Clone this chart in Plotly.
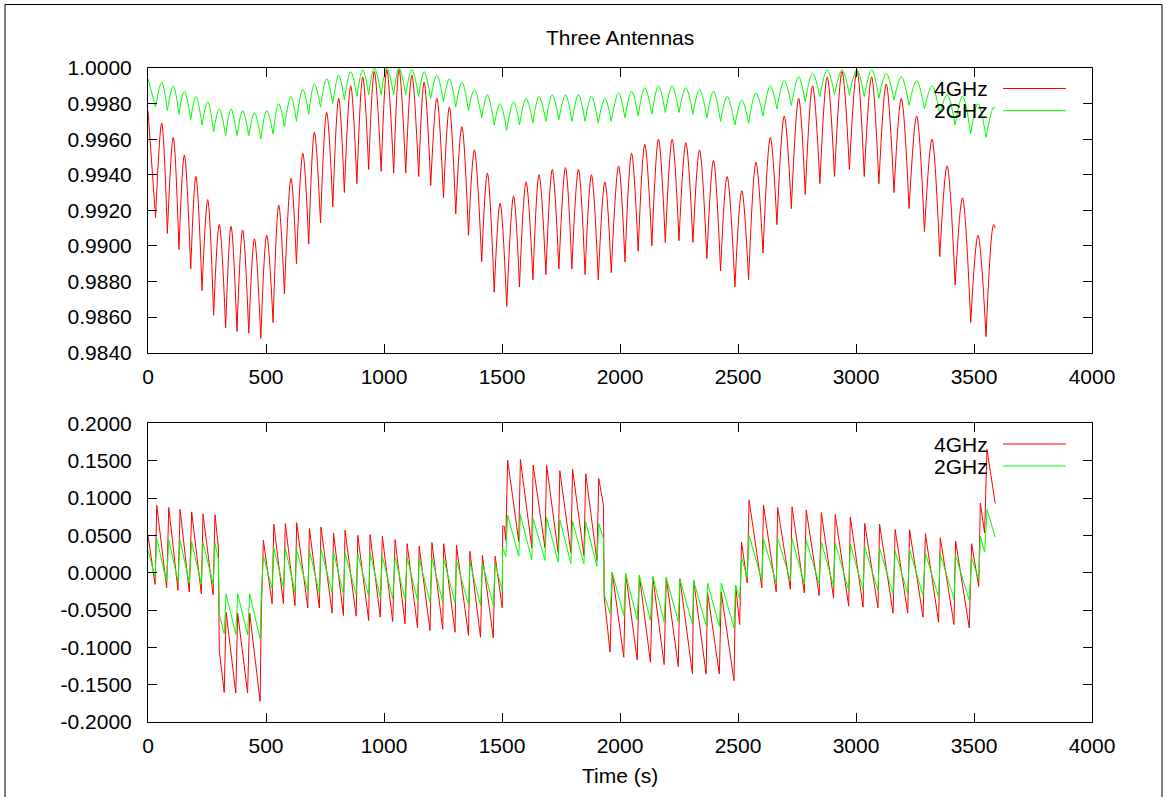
import plotly.graph_objects as go

# ---- upper panel: normalised amplitude ----
t_top = [0, 32, 58, 82, 107, 131, 154, 181, 203, 229,
         253, 278, 302, 329, 352, 377, 401, 427, 451, 478,
         503, 530, 554, 578, 606, 629, 656, 681, 705, 731,
         757, 783, 808, 832, 859, 885, 910, 935, 959, 988,
         1012, 1041, 1064, 1092, 1118, 1147, 1170, 1198, 1224, 1252,
         1277, 1304, 1330, 1358, 1383, 1414, 1438, 1467, 1492, 1520,
         1549, 1574, 1602, 1631, 1657, 1686, 1713, 1741, 1769, 1796,
         1824, 1852, 1879, 1908, 1936, 1963, 1994, 2021, 2049, 2077,
         2105, 2135, 2163, 2192, 2221, 2250, 2279, 2309, 2337, 2368,
         2396, 2426, 2454, 2487, 2516, 2545, 2576, 2606, 2637, 2665,
         2696, 2726, 2757, 2785, 2816, 2847, 2878, 2909, 2941, 2972,
         3004, 3035, 3066, 3097, 3128, 3161, 3192, 3225, 3257, 3290,
         3322, 3355, 3386, 3420, 3451, 3486, 3517, 3551, 3583, 3590]

top_4ghz = [0.9976, 0.9916, 0.9969, 0.9907, 0.9961, 0.9898, 0.9951, 0.9887, 0.9939, 0.9875,
            0.9926, 0.9861, 0.9912, 0.9854, 0.9911, 0.9852, 0.9909, 0.9851, 0.9904, 0.9848,
            0.9906, 0.9857, 0.9923, 0.9873, 0.9938, 0.9890, 0.9952, 0.9901, 0.9964, 0.9913,
            0.9975, 0.9922, 0.9983, 0.9930, 0.9990, 0.9935, 0.9995, 0.9943, 0.9998, 0.9942,
            0.9999, 0.9941, 0.9999, 0.9941, 0.9996, 0.9939, 0.9992, 0.9934, 0.9983, 0.9927,
            0.9978, 0.9918, 0.9967, 0.9906, 0.9954, 0.9891, 0.9941, 0.9874, 0.9924, 0.9866,
            0.9928, 0.9877, 0.9936, 0.9881, 0.9940, 0.9884, 0.9943, 0.9887, 0.9944, 0.9887,
            0.9943, 0.9884, 0.9940, 0.9881, 0.9936, 0.9885, 0.9945, 0.9891, 0.9952, 0.9897,
            0.9957, 0.9900, 0.9960, 0.9902, 0.9960, 0.9903, 0.9958, 0.9902, 0.9954, 0.9893,
            0.9948, 0.9886, 0.9939, 0.9877, 0.9931, 0.9881, 0.9947, 0.9896, 0.9961, 0.9912,
            0.9973, 0.9921, 0.9983, 0.9929, 0.9990, 0.9935, 0.9995, 0.9939, 0.9998, 0.9943,
            0.9999, 0.9939, 0.9995, 0.9935, 0.9991, 0.9930, 0.9983, 0.9921, 0.9973, 0.9908,
            0.9960, 0.9894, 0.9945, 0.9878, 0.9927, 0.9857, 0.9906, 0.9849, 0.9912, 0.9910]

top_2ghz = [0.9994, 0.9978, 0.9992, 0.9976, 0.9990, 0.9974, 0.9987, 0.9971, 0.9984, 0.9968,
            0.9981, 0.9964, 0.9977, 0.9962, 0.9977, 0.9962, 0.9976, 0.9962, 0.9975, 0.9960,
            0.9976, 0.9963, 0.9980, 0.9967, 0.9984, 0.9970, 0.9988, 0.9974, 0.9991, 0.9978,
            0.9994, 0.9980, 0.9996, 0.9982, 0.9998, 0.9984, 0.9999, 0.9985, 1.0000, 0.9985,
            1.0000, 0.9985, 1.0000, 0.9985, 0.9999, 0.9984, 0.9998, 0.9983, 0.9996, 0.9981,
            0.9994, 0.9978, 0.9992, 0.9976, 0.9988, 0.9972, 0.9985, 0.9968, 0.9980, 0.9965,
            0.9981, 0.9968, 0.9983, 0.9969, 0.9984, 0.9970, 0.9985, 0.9971, 0.9985, 0.9970,
            0.9985, 0.9970, 0.9984, 0.9969, 0.9983, 0.9970, 0.9986, 0.9972, 0.9987, 0.9973,
            0.9989, 0.9974, 0.9990, 0.9975, 0.9990, 0.9975, 0.9989, 0.9974, 0.9988, 0.9972,
            0.9987, 0.9970, 0.9984, 0.9968, 0.9982, 0.9969, 0.9986, 0.9973, 0.9990, 0.9977,
            0.9993, 0.9979, 0.9995, 0.9981, 0.9997, 0.9984, 0.9999, 0.9985, 0.9999, 0.9985,
            0.9999, 0.9984, 0.9999, 0.9983, 0.9997, 0.9982, 0.9995, 0.9979, 0.9993, 0.9977,
            0.9990, 0.9974, 0.9985, 0.9968, 0.9984, 0.9963, 0.9980, 0.9961, 0.9978, 0.9977]

# ---- lower panel: phase ----
t_bot = [0, 30, 37, 79, 88, 127, 136, 175, 185, 226,
         233, 276, 284, 298, 302, 323, 331, 372, 380, 422,
         431, 475, 480, 489, 526, 533, 574, 582, 623, 630,
         677, 684, 726, 733, 780, 786, 828, 835, 882, 889,
         935, 941, 984, 993, 1037, 1047, 1089, 1098, 1142, 1149,
         1195, 1203, 1249, 1253, 1301, 1307, 1358, 1364, 1409, 1417,
         1463, 1471, 1501, 1503, 1510, 1516, 1524, 1571, 1578, 1626,
         1632, 1682, 1689, 1738, 1745, 1792, 1799, 1847, 1855, 1902,
         1910, 1930, 1933, 1958, 1967, 2016, 2024, 2073, 2082, 2129,
         2139, 2187, 2196, 2247, 2254, 2307, 2312, 2365, 2371, 2421,
         2429, 2483, 2490, 2507, 2515, 2539, 2547, 2601, 2608, 2662,
         2668, 2722, 2729, 2781, 2789, 2844, 2853, 2905, 2912, 2969,
         2976, 3030, 3037, 3093, 3100, 3157, 3166, 3219, 3227, 3284,
         3294, 3350, 3357, 3415, 3422, 3480, 3490, 3520, 3527, 3545,
         3555, 3590]

bot_4ghz = [0.0500, -0.0157, 0.0904, -0.0201, 0.0873, -0.0237, 0.0846, -0.0260, 0.0815, -0.0285,
            0.0788, -0.0296, 0.0775, 0.0344, -0.1043, -0.1603, -0.0529, -0.1612, -0.0542, -0.1612,
            -0.0542, -0.1724, -0.0551, 0.0434, -0.0416, 0.0650, -0.0416, 0.0658, -0.0439, 0.0671,
            -0.0470, 0.0591, -0.0474, 0.0613, -0.0542, 0.0533, -0.0573, 0.0568, -0.0582, 0.0501,
            -0.0640, 0.0510, -0.0595, 0.0488, -0.0654, 0.0443, -0.0685, 0.0389, -0.0739, 0.0354,
            -0.0774, 0.0403, -0.0756, 0.0389, -0.0797, 0.0367, -0.0841, 0.0286, -0.0865, 0.0230,
            -0.0873, 0.0220, -0.0470, 0.0622, 0.0620, 0.0434, 0.1508, 0.0420, 0.1517, 0.0336,
            0.1441, 0.0336, 0.1441, 0.0269, 0.1365, 0.0269, 0.1387, 0.0232, 0.1325, 0.0165,
            0.1262, 0.0904, -0.0327, -0.1066, 0.0008, -0.1133, -0.0013, -0.1168, -0.0036, -0.1200,
            -0.0058, -0.1231, -0.0067, -0.1258, -0.0081, -0.1356, -0.0103, -0.1357, -0.0260, -0.1357,
            -0.0260, -0.1446, -0.0171, -0.0694, 0.0411, -0.0134, 0.0971, -0.0201, 0.0904, -0.0260,
            0.0873, -0.0224, 0.0882, -0.0270, 0.0840, -0.0305, 0.0806, -0.0341, 0.0779, -0.0448,
            0.0747, -0.0462, 0.0658, -0.0470, 0.0649, -0.0542, 0.0577, -0.0542, 0.0577, -0.0596,
            0.0524, -0.0663, 0.0470, -0.0694, 0.0425, -0.0739, 0.0389, -0.0184, 0.0935, 0.0532,
            0.1652, 0.0927]

bot_2ghz = [0.0300, -0.0058, 0.0457, -0.0125, 0.0443, -0.0116, 0.0434, -0.0139, 0.0412, -0.0148,
            0.0405, -0.0152, 0.0395, 0.0188, -0.0551, -0.0819, -0.0282, -0.0829, -0.0282, -0.0833,
            -0.0282, -0.0887, -0.0305, 0.0225, -0.0215, 0.0330, -0.0200, 0.0328, -0.0260, 0.0309,
            -0.0246, 0.0300, -0.0273, 0.0313, -0.0260, 0.0278, -0.0282, 0.0264, -0.0291, 0.0255,
            -0.0313, 0.0264, -0.0327, 0.0219, -0.0349, 0.0210, -0.0358, 0.0201, -0.0372, 0.0188,
            -0.0394, 0.0201, -0.0394, 0.0188, -0.0407, 0.0166, -0.0430, 0.0143, -0.0439, 0.0129,
            -0.0439, 0.0121, -0.0238, 0.0322, 0.0280, 0.0219, 0.0770, 0.0219, 0.0779, 0.0174,
            0.0725, 0.0165, 0.0739, 0.0143, 0.0712, 0.0121, 0.0689, 0.0121, 0.0680, 0.0085,
            0.0658, 0.0456, -0.0282, -0.0551, 0.0008, -0.0573, -0.0013, -0.0631, -0.0036, -0.0641,
            -0.0050, -0.0654, -0.0067, -0.0654, -0.0094, -0.0685, -0.0103, -0.0708, -0.0140, -0.0720,
            -0.0140, -0.0739, -0.0170, -0.0350, 0.0210, -0.0067, 0.0500, -0.0103, 0.0456, -0.0140,
            0.0456, -0.0103, 0.0456, -0.0148, 0.0434, -0.0148, 0.0411, -0.0180, 0.0398, -0.0238,
            0.0380, -0.0228, 0.0344, -0.0238, 0.0331, -0.0282, 0.0291, -0.0282, 0.0309, -0.0305,
            0.0264, -0.0327, 0.0246, -0.0349, 0.0232, -0.0372, 0.0201, -0.0094, 0.0487, 0.0277,
            0.0846, 0.0478]

# ---- axis tick labels ----
x_ticks = [0, 500, 1000, 1500, 2000, 2500, 3000, 3500, 4000]
x_labels = ["0", "500", "1000", "1500", "2000", "2500", "3000", "3500", "4000"]
top_ticks = [0.984, 0.986, 0.988, 0.990, 0.992, 0.994, 0.996, 0.998, 1.000]
top_labels = ["0.9840", "0.9860", "0.9880", "0.9900", "0.9920", "0.9940", "0.9960", "0.9980", "1.0000"]
bot_ticks = [-0.20, -0.15, -0.10, -0.05, 0.0, 0.05, 0.10, 0.15, 0.20]
bot_labels = ["-0.2000", "-0.1500", "-0.1000", "-0.0500", "0.0000", "0.0500", "0.1000", "0.1500", "0.2000"]

series_names = ["4GHz", "2GHz"]
series_colors = ["#ff0000", "#00ff00"]

assert len(t_top) == len(top_4ghz) == len(top_2ghz)
assert len(t_bot) == len(bot_4ghz) == len(bot_2ghz)

# ---- page geometry (pixels) ----
W, H = 1166, 797
ML, MR, MT, MB = 148, 74, 68, 75
PW, PH = W - ML - MR, H - MT - MB


def px(x):
    return (x - ML) / PW


def py(y):
    return (H - MB - y) / PH


def arches(t, v):
    """Split the trace at every trough so each lobe is smoothed on its own
    and the troughs stay sharp cusps."""
    xs, ys = list(t[:2]) + [None], list(v[:2]) + [None]
    for i in range(1, len(t) - 1, 2):
        xs += list(t[i:i + 3]) + [None]
        ys += list(v[i:i + 3]) + [None]
    return xs, ys


fig = go.Figure()

for vals, name, col in zip([top_4ghz, top_2ghz], series_names, series_colors):
    xs, ys = arches(t_top, vals)
    fig.add_trace(go.Scatter(x=xs, y=ys, mode="lines", name=name,
                             line=dict(color=col, width=1, shape="spline", smoothing=1.0),
                             connectgaps=False, xaxis="x", yaxis="y",
                             showlegend=False, hoverinfo="skip"))

for vals, name, col in zip([bot_4ghz, bot_2ghz], series_names, series_colors):
    fig.add_trace(go.Scatter(x=t_bot, y=vals, mode="lines", name=name,
                             line=dict(color=col, width=1),
                             xaxis="x2", yaxis="y2",
                             showlegend=False, hoverinfo="skip"))

axis_style = dict(showline=True, linecolor="black", linewidth=1, mirror="ticks",
                  ticks="inside", ticklen=9, tickwidth=1, tickcolor="black",
                  showgrid=False, zeroline=False)
x_style = dict(axis_style, ticklabelstandoff=5)
y_style = dict(axis_style, ticklabelstandoff=11)

top_bottom = py(352.7)
bot_top = py(423.4)

fig.update_layout(
    width=W, height=H,
    margin=dict(l=ML, r=MR, t=MT, b=MB),
    paper_bgcolor="white", plot_bgcolor="white",
    font=dict(family="Liberation Sans, Arial, sans-serif", size=21, color="black"),
    showlegend=False,
    xaxis=dict(domain=[0, 1], anchor="y", range=[0, 4000],
               tickvals=x_ticks, ticktext=x_labels, **x_style),
    yaxis=dict(domain=[top_bottom, 1], anchor="x", range=[0.984, 1.0],
               tickvals=top_ticks, ticktext=top_labels, **y_style),
    xaxis2=dict(domain=[0, 1], anchor="y2", range=[0, 4000],
                tickvals=x_ticks, ticktext=x_labels, **x_style),
    yaxis2=dict(domain=[0, bot_top], anchor="x2", range=[-0.2, 0.2],
                tickvals=bot_ticks, ticktext=bot_labels, **y_style),
)

annotations = [
    dict(text="Three Antennas", x=0.5, y=py(37), xref="paper", yref="paper",
         xanchor="center", yanchor="middle", showarrow=False),
    dict(text="Time (s)", x=0.5, y=py(775), xref="paper", yref="paper",
         xanchor="center", yanchor="middle", showarrow=False),
]
shapes = []

# key entries: text to the left, line sample to the right
for rows in ([88.5, 110.7], [444.0, 466.0]):
    for yrow, name, col in zip(rows, series_names, series_colors):
        annotations.append(dict(text=name, x=px(990), y=py(yrow), xref="paper", yref="paper",
                                xanchor="right", yanchor="middle", showarrow=False))
        shapes.append(dict(type="line", xref="paper", yref="paper",
                           x0=px(1003), x1=px(1066), y0=py(yrow), y1=py(yrow),
                           line=dict(color=col, width=1)))

# outer frame of the page
shapes.append(dict(type="rect", xref="paper", yref="paper",
                   x0=px(5), x1=px(1162), y0=py(805), y1=py(4.5),
                   line=dict(color="black", width=1), layer="below"))

fig.update_layout(annotations=annotations, shapes=shapes)

fig.write_html("out.html")
